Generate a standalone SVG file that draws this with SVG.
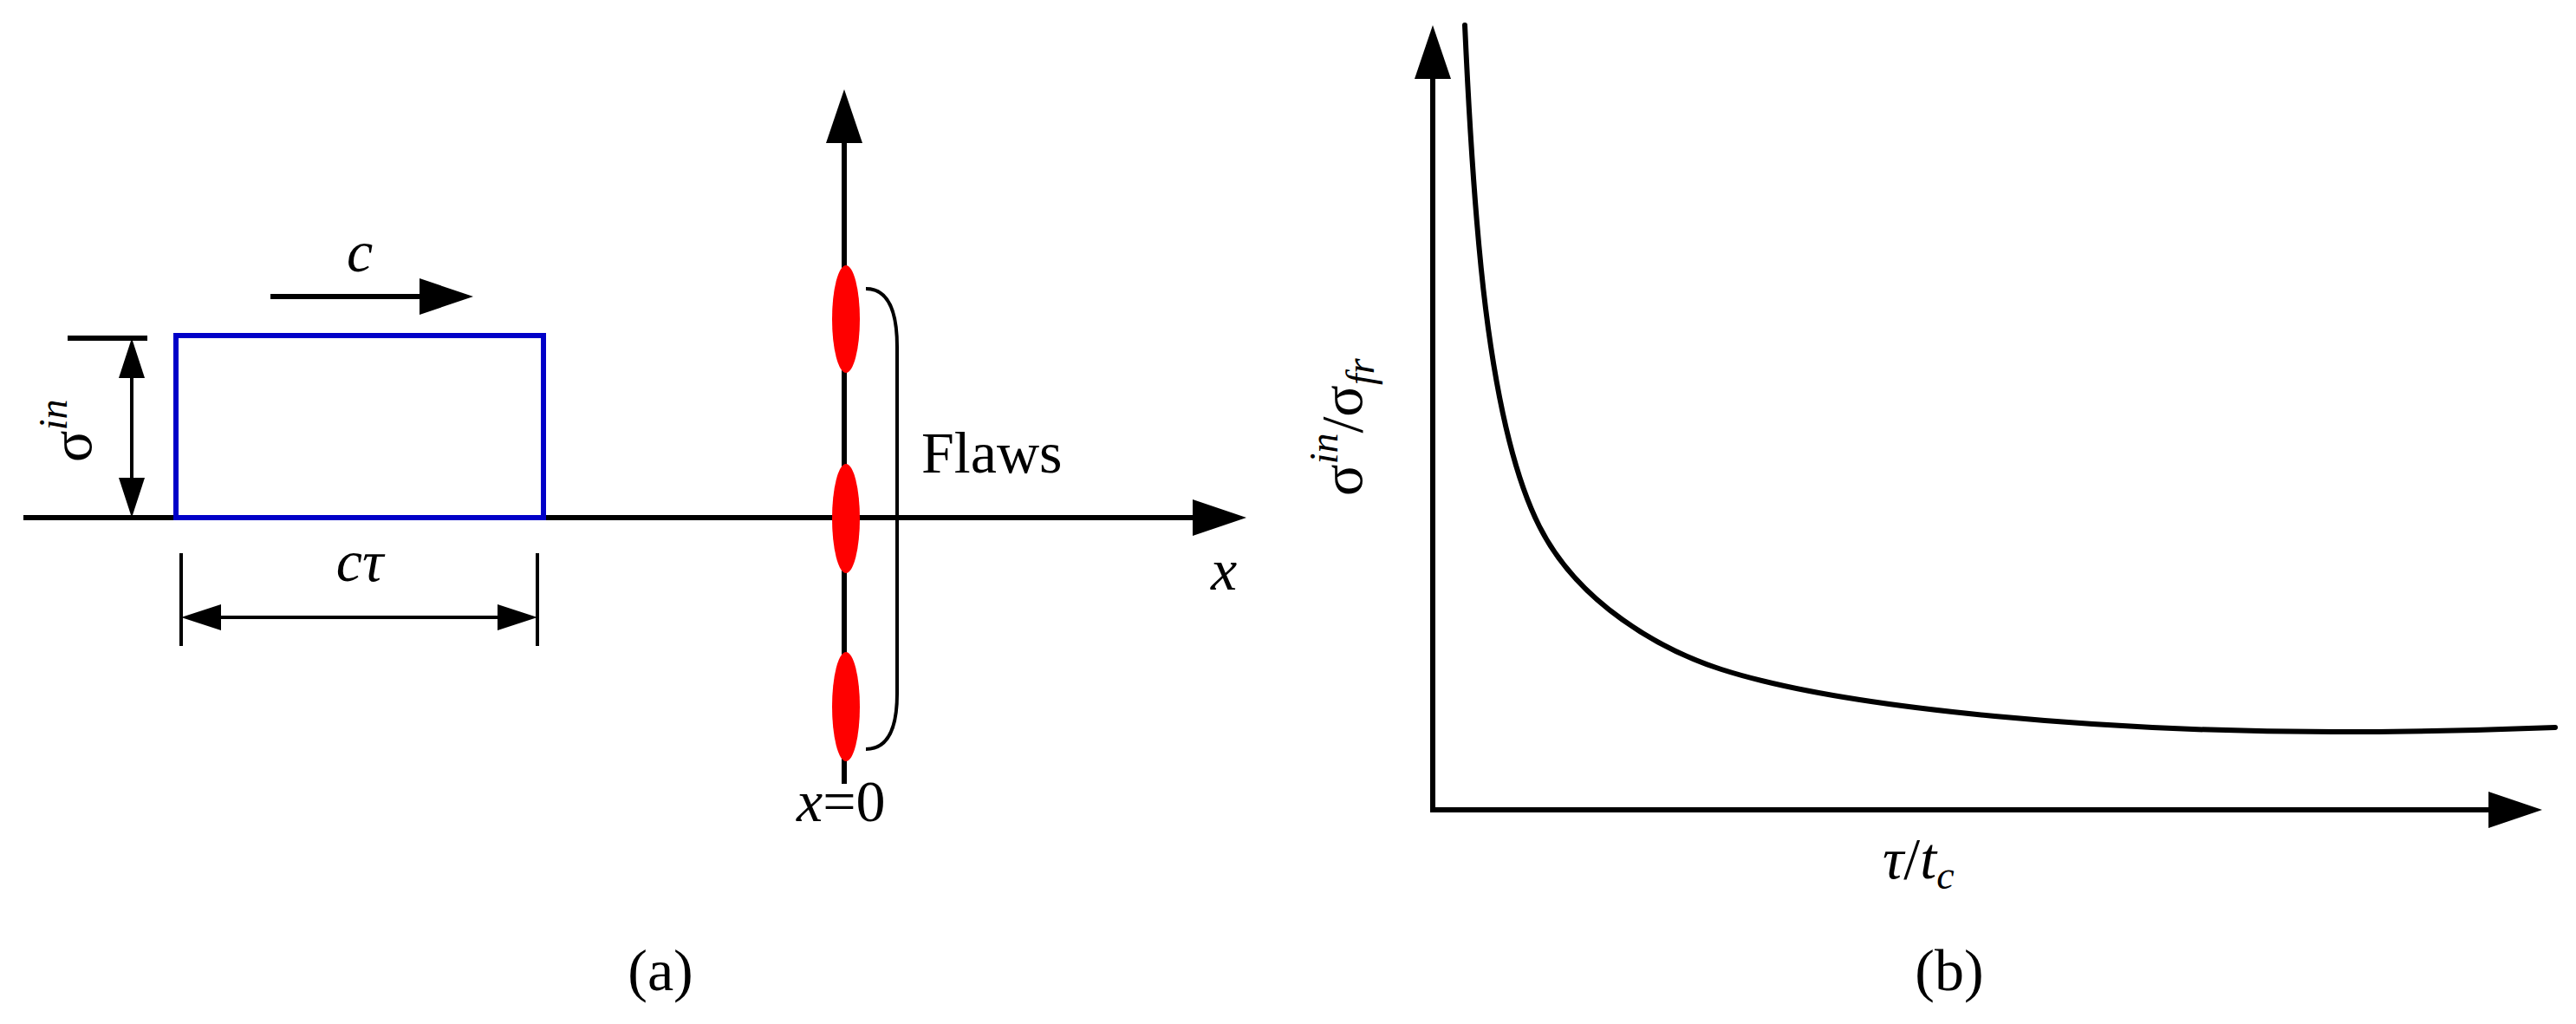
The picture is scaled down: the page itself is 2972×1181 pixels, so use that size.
<svg xmlns="http://www.w3.org/2000/svg" width="2972" height="1181" viewBox="0 0 2972 1181">
<style>
.ln{stroke:#000;stroke-width:6;fill:none}
.thin{stroke:#000;stroke-width:4;fill:none}
.t{font-family:"Liberation Serif","Times New Roman",serif;font-size:68px;fill:#000}
.i{font-style:italic}
.u{font-style:normal}
.flaw{fill:#ff0000}
</style>
<defs>
<marker id="big" markerUnits="userSpaceOnUse" markerWidth="64" markerHeight="44" refX="0" refY="21" orient="auto-start-reverse" viewBox="0 0 64 44" overflow="visible">
<path d="M0,0 L62,21 L0,42 z" fill="#000"/>
</marker>
<marker id="small" markerUnits="userSpaceOnUse" markerWidth="48" markerHeight="32" refX="0" refY="15" orient="auto-start-reverse" viewBox="0 0 48 32" overflow="visible">
<path d="M0,0 L46,15 L0,30 z" fill="#000"/>
</marker>
</defs>
<rect width="2972" height="1181" fill="#fff"/>

<g id="connectors">
<line class="ln" x1="27" y1="597" x2="1376" y2="597" marker-end="url(#big)"/>
<line class="ln" x1="974" y1="904" x2="974" y2="165" marker-end="url(#big)"/>
<line class="ln" x1="312" y1="342" x2="484" y2="342" marker-end="url(#big)"/>
<line class="ln" x1="78" y1="390" x2="170" y2="390"/>
<line class="thin" stroke-width="5" x1="152" y1="436" x2="152" y2="551" marker-start="url(#small)" marker-end="url(#small)"/>
<line class="thin" x1="209" y1="638" x2="209" y2="745"/>
<line class="thin" x1="620" y1="638" x2="620" y2="745"/>
<line class="thin" x1="255" y1="712" x2="574" y2="712" marker-start="url(#small)" marker-end="url(#small)"/>
<path class="thin" stroke-width="5" d="M999,333 C1025,333 1035,360 1035,400 L1035,800 C1035,840 1025,864 999,864"/>
<path class="ln" d="M1653,91 L1653,934 L2871,934" marker-start="url(#big)" marker-end="url(#big)" stroke-linejoin="miter"/>
</g>

<g id="pulse">
<rect x="203" y="387" width="424" height="210" fill="none" stroke="#0000c8" stroke-width="6"/>
</g>

<g id="flaws">
<ellipse class="flaw" cx="976" cy="368" rx="16" ry="62"/>
<ellipse class="flaw" cx="976" cy="598" rx="16" ry="63"/>
<ellipse class="flaw" cx="976" cy="815" rx="16" ry="63"/>
</g>

<g id="curve">
<path class="ln" stroke-linecap="round" d="M1690,29 C1700,250 1715.4,487 1776,607 C1821,696.1 1916,749.6 1986,772 C2136,820 2442,844 2692,844 C2780,844 2870,842 2948,839"/>
</g>

<g id="labels">
<text class="t i" x="415" y="313" text-anchor="middle">c</text>
<text class="t i" x="415" y="670" text-anchor="middle">cτ</text>
<text class="t i" transform="translate(105,533) rotate(-90)"><tspan class="u">σ</tspan><tspan font-size="46" dy="-28">in</tspan></text>
<text class="t" x="1063" y="545" font-size="70">Flaws</text>
<text class="t i" x="1412" y="680" text-anchor="middle">x</text>
<text class="t" x="919" y="947"><tspan class="i">x</tspan>=0</text>
<text class="t" x="762" y="1142" text-anchor="middle">(a)</text>
<text class="t i" transform="translate(1571,572) rotate(-90)"><tspan class="u">σ</tspan><tspan font-size="46" dy="-28">in</tspan><tspan class="u" dy="28">/</tspan><tspan class="u">σ</tspan><tspan font-size="46" dy="14">fr</tspan></text>
<text class="t i" x="2172" y="1013">τ<tspan class="u">/</tspan>t<tspan font-size="46" dy="12">c</tspan></text>
<text class="t" x="2249" y="1142" text-anchor="middle">(b)</text>
</g>
</svg>
